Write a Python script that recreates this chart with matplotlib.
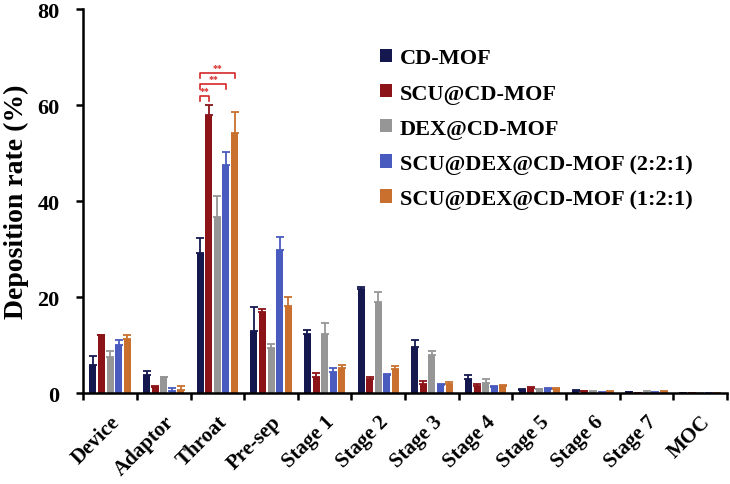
import numpy as np
import matplotlib
matplotlib.use("Agg")
import matplotlib.pyplot as plt

categories = ["Device", "Adaptor", "Throat", "Pre-sep", "Stage 1", "Stage 2",
              "Stage 3", "Stage 4", "Stage 5", "Stage 6", "Stage 7", "MOC"]
series_names = ["CD-MOF", "SCU@CD-MOF", "DEX@CD-MOF",
                "SCU@DEX@CD-MOF (2:2:1)", "SCU@DEX@CD-MOF (1:2:1)"]
colors = ["#15184f", "#8c1418", "#969696", "#4a5bbf", "#c9702f"]

cd_mof = [5.8, 3.8, 29.2, 13.0, 12.3, 21.7, 9.7, 3.0, 0.7, 0.5, 0.2, 0]
cd_mof_err = [1.9, 0.8, 3.1, 5.0, 0.8, 0.4, 1.3, 0.8, 0.1, 0.1, 0.0, 0]
scu = [12.1, 1.4, 57.9, 17.0, 3.3, 3.0, 2.0, 1.6, 1.2, 0.4, 0.05, 0]
scu_err = [0.1, 0.1, 2.1, 0.5, 0.9, 0.4, 0.6, 0.4, 0.1, 0.1, 0.0, 0]
dex = [7.5, 3.3, 36.7, 9.4, 12.3, 19.1, 7.9, 2.1, 0.9, 0.2, 0.1, 0]
dex_err = [1.3, 0.1, 4.3, 0.8, 2.3, 2.1, 0.9, 0.8, 0.1, 0.3, 0.3, 0]
scu_dex_221 = [10.0, 0.5, 47.5, 29.8, 4.5, 3.8, 1.8, 1.4, 1.0, 0.1, 0.1, 0]
scu_dex_221_err = [1.2, 0.6, 2.7, 2.7, 0.7, 0.2, 0.1, 0.1, 0.1, 0.1, 0.1, 0]
scu_dex_121 = [11.4, 0.6, 54.2, 18.1, 5.2, 5.0, 1.9, 1.5, 0.9, 0.3, 0.3, 0]
scu_dex_121_err = [0.8, 0.9, 4.3, 1.9, 0.7, 0.7, 0.4, 0.2, 0.3, 0.1, 0.1, 0]

values = [cd_mof, scu, dex, scu_dex_221, scu_dex_121]
errors = [cd_mof_err, scu_err, dex_err, scu_dex_221_err, scu_dex_121_err]

# significance brackets in the Throat group: (from series, to series, height)
brackets = [(0, 1, 61.9), (0, 3, 64.4), (0, 4, 66.7)]

plt.rcParams["font.family"] = ["Liberation Serif", "DejaVu Serif"]
plt.rcParams["font.weight"] = "bold"

fig = plt.figure(figsize=(7.3, 4.85), dpi=100)
ax = fig.add_axes([0.114, 0.187, 0.882, 0.792])

x = np.arange(len(categories))
step = 0.16
width = 0.13
for k in range(5):
    pos = x + (k - 2) * step
    ax.bar(pos, values[k], width, color=colors[k], label=series_names[k], zorder=2)
    ax.errorbar(pos, values[k], yerr=[np.zeros(len(x)), errors[k]], fmt="none",
                ecolor=colors[k], elinewidth=1.3, capsize=3, capthick=1.3, zorder=1)

t = categories.index("Throat")
for a, b, h in brackets:
    x0 = t + (a - 2) * step
    x1 = t + (b - 2) * step
    ax.plot([x0, x0, x1, x1], [h - 1.1, h, h, h - 1.1], color="#d62728", lw=1.2,
            clip_on=False)
    ax.text((x0 + x1) / 2, h + 0.2, "**", color="#d62728", ha="center", va="bottom",
            fontsize=7)

ax.set_xlim(-0.5, len(categories) - 0.5)
ax.set_ylim(0, 80)
ax.set_yticks([0, 20, 40, 60, 80])
ax.set_xticks(np.arange(len(categories) + 1) - 0.5)
ax.set_xticklabels([])
ax.set_xticks(x, minor=True)
ax.set_xticklabels(categories, minor=True, rotation=45, ha="right",
                   rotation_mode="anchor", fontsize=15, fontweight="bold")
ax.tick_params(axis="x", which="minor", length=0, pad=13)
ax.tick_params(axis="both", which="major", length=5, width=1.8, direction="out")
ax.tick_params(axis="y", labelsize=16, pad=12)
for lab in ax.get_yticklabels():
    lab.set_fontweight("bold")

for side in ["top", "right"]:
    ax.spines[side].set_visible(False)
for side in ["left", "bottom"]:
    ax.spines[side].set_linewidth(1.8)

ax.set_ylabel("Deposition rate (%)", fontsize=20, fontweight="bold", labelpad=6)

ax.legend(loc="upper left", bbox_to_anchor=(0.43, 0.95), frameon=False,
          prop={"size": 16, "weight": "bold"}, handlelength=0.55, handleheight=0.55,
          handletextpad=0.35, labelspacing=0.68)

fig.savefig("out.png", dpi=100)
